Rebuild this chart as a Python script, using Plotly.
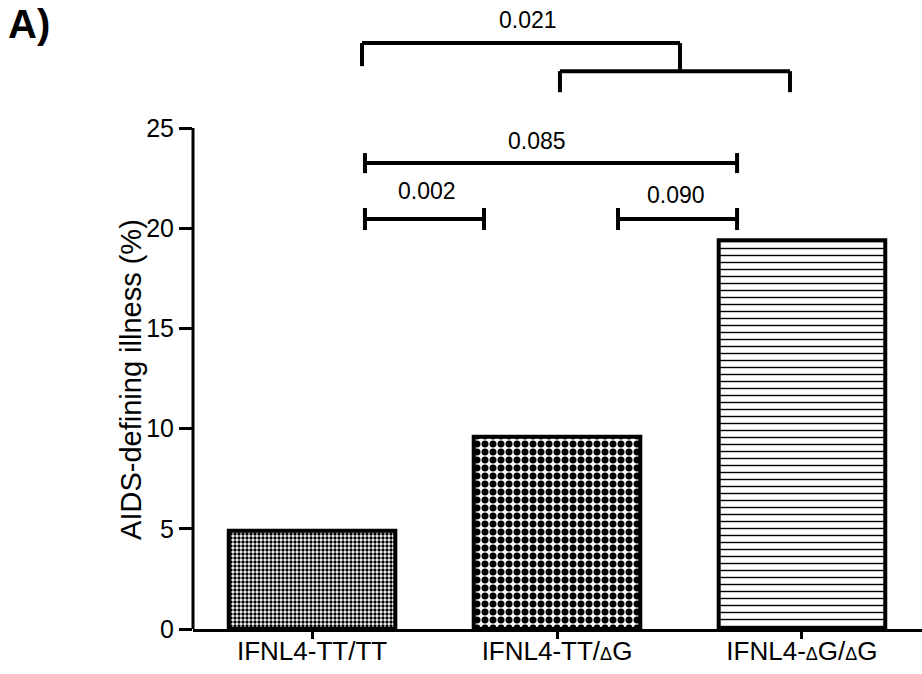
import plotly.graph_objects as go

# ---- data ----
categories = ["IFNL4-TT/TT", "IFNL4-TT/<span style='font-size:18px'>Δ</span>G",
              "IFNL4-<span style='font-size:18px'>Δ</span>G/<span style='font-size:18px'>Δ</span>G"]
aids_pct = [4.9, 9.6, 19.4]
y_ticks = [0, 5, 10, 15, 20, 25]
p_labels = ["0.002", "0.090", "0.085", "0.021"]

# ---- styling ----
pattern_shapes = [".", ".", "-"]
pattern_sizes = [4, 8, 7]
pattern_solidity = [0.55, 0.6, 0.2]
FONT = "Liberation Sans, Arial, sans-serif"

fig = go.Figure()
fig.add_trace(go.Bar(
    x=list(range(len(categories))),
    y=aids_pct,
    width=0.68,
    marker=dict(
        color="white",
        line=dict(color="black", width=4),
        pattern=dict(shape=pattern_shapes, size=pattern_sizes,
                     solidity=pattern_solidity, fgcolor="black",
                     bgcolor="white", fillmode="replace"),
    ),
    showlegend=False,
    hoverinfo="skip",
))

# brackets: (x0, x1, y, tick half-height, label index, label x, label y)
simple_brackets = [
    (0.216, 0.702, 20.46, 0.55, 0, 0.469, 21.85),
    (1.249, 1.735, 20.46, 0.55, 1, 1.486, 21.65),
    (0.216, 1.735, 23.25, 0.5, 2, 0.918, 24.35),
]
line = dict(color="black", width=4)
for x0, x1, yb, hh, li, lx, ly in simple_brackets:
    fig.add_shape(type="line", xref="x", yref="y", x0=x0, x1=x1, y0=yb, y1=yb, line=line)
    for xx in (x0, x1):
        fig.add_shape(type="line", xref="x", yref="y", x0=xx, x1=xx, y0=yb - hh, y1=yb + hh, line=line)
    fig.add_annotation(x=lx, y=ly, xref="x", yref="y", text=p_labels[li], showarrow=False,
                       font=dict(family=FONT, size=23, color="black"))

# nested bracket: group (bar2, bar3) vs bar1
low_x0, low_x1, low_y, low_drop = 1.012, 1.951, 27.84, 1.05
top_x0, top_x1, top_y, top_drop = 0.204, 1.502, 29.24, 1.15
fig.add_shape(type="line", x0=low_x0, x1=low_x1, y0=low_y, y1=low_y, line=line)
fig.add_shape(type="line", x0=low_x0, x1=low_x0, y0=low_y, y1=low_y - low_drop, line=line)
fig.add_shape(type="line", x0=low_x1, x1=low_x1, y0=low_y, y1=low_y - low_drop, line=line)
fig.add_shape(type="line", x0=top_x0, x1=top_x1, y0=top_y, y1=top_y, line=line)
fig.add_shape(type="line", x0=top_x0, x1=top_x0, y0=top_y, y1=top_y - top_drop, line=line)
fig.add_shape(type="line", x0=top_x1, x1=top_x1, y0=top_y, y1=low_y, line=line)
fig.add_annotation(x=0.882, y=30.39, text=p_labels[3], showarrow=False,
                   font=dict(family=FONT, size=23, color="black"))

# y axis line only up to 25
fig.add_shape(type="line", xref="paper", yref="y", x0=0, x1=0, y0=0, y1=max(y_ticks),
              line=dict(color="black", width=3))

# y-axis title
fig.add_annotation(xref="paper", yref="paper", x=0, y=0.396, xshift=-62,
                   xanchor="center", yanchor="middle",
                   text="AIDS-defining illness (%)", textangle=-90, showarrow=False,
                   font=dict(family=FONT, size=29, color="black"))

# panel label
fig.add_annotation(xref="paper", yref="paper", x=(6 - 193) / 729, y=1, text="<b>A)</b>",
                   showarrow=False, xanchor="left", yanchor="top",
                   font=dict(family=FONT, size=40, color="black"))

fig.update_layout(
    width=922, height=674,
    margin=dict(l=193, r=0, t=0, b=45),
    plot_bgcolor="white", paper_bgcolor="white",
    font=dict(family=FONT, color="black"),
    xaxis=dict(
        range=[-0.486, 2.49],
        tickvals=list(range(len(categories))), ticktext=categories,
        showline=True, linecolor="black", linewidth=3,
        ticks="outside", ticklen=7, tickwidth=3, tickcolor="black",
        ticklabelstandoff=-10,
        tickfont=dict(family=FONT, size=26, color="black"),
        showgrid=False, zeroline=False, automargin=False,
    ),
    yaxis=dict(
        range=[0, 31.39],
        tickvals=y_ticks, ticktext=[str(v) for v in y_ticks],
        showline=False,
        ticks="outside", ticklen=13, tickwidth=3, tickcolor="black",
        tickfont=dict(family=FONT, size=25, color="black"),
        showgrid=False, zeroline=False, automargin=False,
    ),
)

fig.write_html("out.html", config={"displayModeBar": False},
               post_script="document.body.style.margin='0';document.body.style.overflow='hidden';")
